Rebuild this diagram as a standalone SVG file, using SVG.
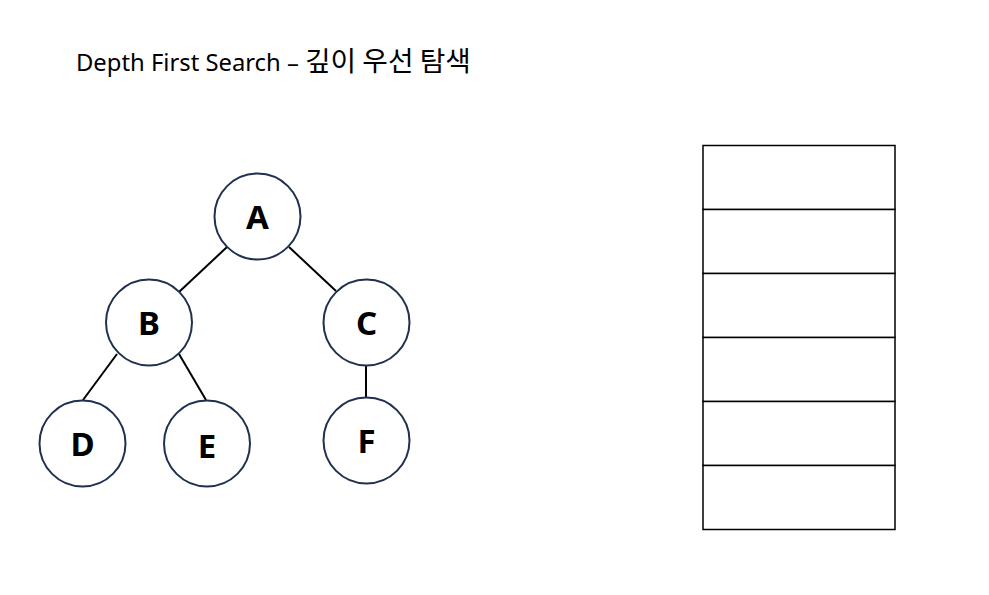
<svg xmlns="http://www.w3.org/2000/svg" width="989" height="595" viewBox="0 0 989 595">
<style>
.node circle{fill:#fff;stroke:#1f3050;stroke-width:2}
.node text{font-family:"Noto Sans","Noto Sans CJK KR",sans-serif;font-weight:bold;font-size:33px;text-anchor:middle;fill:#000}
.edges line{stroke:#000;stroke-width:2}
.cell{fill:#fff;stroke:#000;stroke-width:1.5}
.title{font-family:"Noto Sans","Noto Sans CJK KR",sans-serif;font-size:23.8px;fill:#000}
.ko{font-family:"Noto Sans CJK KR",sans-serif;font-size:27.8px}
</style>
<rect width="989" height="595" fill="#fff"/>
<text class="title" x="76" y="71">Depth First Search – <tspan class="ko">깊이 우선 탐색</tspan></text>
<g class="edges">
<line x1="227" y1="247" x2="179" y2="292"/>
<line x1="289" y1="247" x2="336" y2="291"/>
<line x1="117" y1="354" x2="83" y2="400"/>
<line x1="179" y1="354" x2="206" y2="400"/>
<line x1="366" y1="366" x2="366" y2="397"/>
</g>
<g id="A" class="node"><circle cx="257.5" cy="216.5" r="43"/><text x="257.5" y="228.5">A</text></g>
<g id="B" class="node"><circle cx="149" cy="322.5" r="43"/><text x="149" y="334.5">B</text></g>
<g id="C" class="node"><circle cx="366.5" cy="322.5" r="43"/><text x="366.5" y="334.5">C</text></g>
<g id="D" class="node"><circle cx="82.5" cy="443.5" r="43"/><text x="82.5" y="455.5">D</text></g>
<g id="E" class="node"><circle cx="207" cy="443.5" r="43"/><text x="207" y="457.5">E</text></g>
<g id="F" class="node"><circle cx="366.5" cy="440.5" r="43"/><text x="366.5" y="452.5">F</text></g>
<g id="stack">
<rect class="cell" x="703" y="145.5" width="192" height="64"/>
<rect class="cell" x="703" y="209.5" width="192" height="64"/>
<rect class="cell" x="703" y="273.5" width="192" height="64"/>
<rect class="cell" x="703" y="337.5" width="192" height="64"/>
<rect class="cell" x="703" y="401.5" width="192" height="64"/>
<rect class="cell" x="703" y="465.5" width="192" height="64"/>
</g>
</svg>
